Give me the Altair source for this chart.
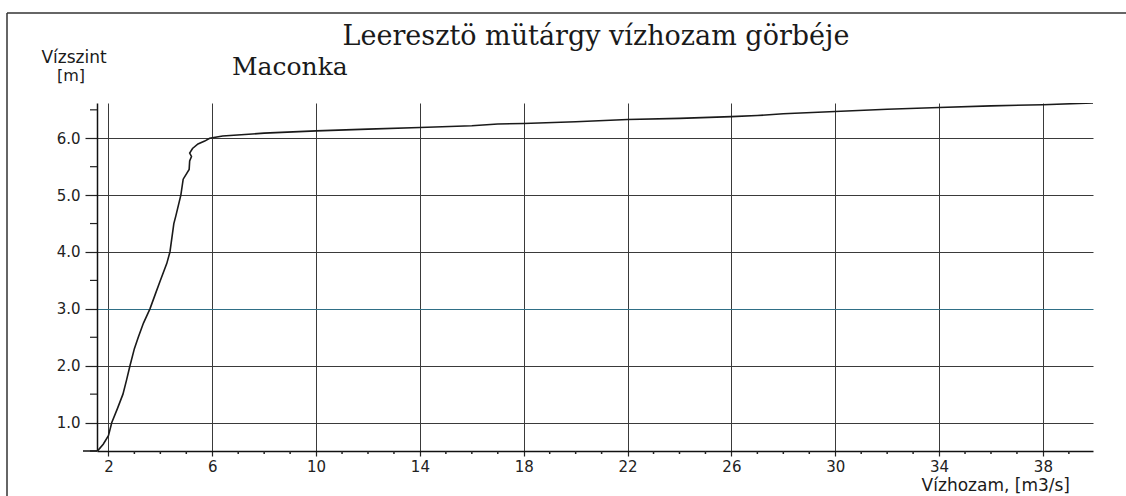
import altair as alt
import pandas as pd

# ---- data ----
discharge = [1.58, 1.8, 2.0, 2.13, 2.35, 2.56, 2.7, 2.83, 3.0, 3.15, 3.35, 3.6, 3.8, 4.0,
             4.25, 4.37, 4.52, 4.6, 4.79, 4.88, 5.11, 5.13, 5.2, 5.13, 5.24, 5.45, 5.71,
             5.9, 6.4, 7.4, 8, 10, 12, 14, 16, 17, 18, 20, 22, 24, 26, 27, 28, 30, 32,
             34, 36, 38, 39.93]
level = [0.5, 0.62, 0.77, 1.0, 1.25, 1.5, 1.75, 2.0, 2.3, 2.5, 2.75, 3.0, 3.25, 3.5,
         3.8, 4.0, 4.5, 4.64, 5.0, 5.28, 5.45, 5.6, 5.68, 5.74, 5.82, 5.9, 5.95,
         6.0, 6.04, 6.07, 6.09, 6.13, 6.16, 6.19, 6.22, 6.25, 6.26, 6.29, 6.33, 6.35,
         6.38, 6.40, 6.43, 6.47, 6.51, 6.54, 6.57, 6.59, 6.62]

x_major = [2, 6, 10, 14, 18, 22, 26, 30, 34, 38]
y_major = [1, 2, 3, 4, 5, 6]
x_minor = [v for v in range(2, 40) if v not in x_major]
y_minor = [0.5, 1.5, 2.5, 3.5, 4.5, 5.5, 6.5]

title_text = "Leeresztö mütárgy vízhozam görbéje"
subtitle_text = "Maconka"
y_title_1 = "Vízszint"
y_title_2 = "[m]"
x_title = "Vízhozam, [m3/s]"

W, H = 996, 348
xdom = [1.56, 39.93]
ydom = [0.5, 6.62]

df = pd.DataFrame({"q": discharge, "h": level, "i": list(range(len(discharge)))})

xscale = alt.Scale(domain=xdom, nice=False, zero=False)
yscale = alt.Scale(domain=ydom, nice=False, zero=False)

SANS = "DejaVu Sans"
SERIF = "DejaVu Serif"

xaxis = alt.Axis(values=x_major, format="d", title=None, grid=True,
                 gridColor="#3a3a3a", gridWidth=1,
                 tickSize=5, tickColor="#222", tickWidth=1.2,
                 domainColor="#111", domainWidth=1.5,
                 labelFont=SANS, labelFontSize=15, labelColor="#222",
                 labelPadding=3)
yaxis = alt.Axis(values=y_major, format=".1f", title=None, grid=True,
                 gridColor={"condition": {"test": "datum.value === 3", "value": "#2f6f86"},
                            "value": "#3a3a3a"},
                 gridWidth=1,
                 tickSize=12, tickColor="#222", tickWidth=1.2,
                 domainColor="#111", domainWidth=1.5,
                 labelFont=SANS, labelFontSize=15, labelColor="#222",
                 labelPadding=5)

line = alt.Chart(df).mark_line(color="#1a1a1a", strokeWidth=1.6, clip=True).encode(
    x=alt.X("q:Q", scale=xscale, axis=xaxis),
    y=alt.Y("h:Q", scale=yscale, axis=yaxis),
    order="i:Q",
)

ymin_df = pd.DataFrame({"h": y_minor})
y_minor_ticks = alt.Chart(ymin_df).mark_rule(color="#222", strokeWidth=1.2).encode(
    y=alt.Y("h:Q", scale=yscale, axis=yaxis),
    x=alt.value(-7), x2=alt.value(0),
)

xmin_df = pd.DataFrame({"q": x_minor})
x_minor_ticks = alt.Chart(xmin_df).mark_rule(color="#222", strokeWidth=1.5).encode(
    x=alt.X("q:Q", scale=xscale, axis=xaxis),
    y=alt.value(H), y2=alt.value(H + 3),
)

axis_ext = alt.Chart(pd.DataFrame({"a": [0]})).mark_rule(color="#111", strokeWidth=1.5).encode(
    x=alt.value(-14), x2=alt.value(0), y=alt.value(H)
)

frame_left = alt.Chart(pd.DataFrame({"a": [0]})).mark_rule(color="#333", strokeWidth=1.5).encode(
    x=alt.value(-90), y=alt.value(-90), y2=alt.value(H + 45)
)
frame_top = alt.Chart(pd.DataFrame({"a": [0]})).mark_rule(color="#333", strokeWidth=1.5).encode(
    x=alt.value(-90), x2=alt.value(W + 33), y=alt.value(-90)
)


def label(text, x, y, font, size, align="left"):
    return alt.Chart(pd.DataFrame({"t": [text]})).mark_text(
        font=font, fontSize=size, align=align, baseline="alphabetic", color="#1a1a1a"
    ).encode(text="t:N", x=alt.value(x), y=alt.value(y))


t1 = label(title_text, 499, -58, SERIF, 27, "center")
t2 = label(subtitle_text, 135, -28, SERIF, 25, "left")
t3 = label(y_title_1, -23, -40, SANS, 17, "center")
t4 = label(y_title_2, -26, -22, SANS, 16, "center")
t5 = label(x_title, 973, H + 40, SANS, 17, "right")

chart = alt.layer(
    line, y_minor_ticks, x_minor_ticks, axis_ext, frame_left, frame_top, t1, t2, t3, t4, t5
).properties(
    width=W, height=H,
    autosize=alt.AutoSizeParams(type="none"),
    padding={"left": 97, "top": 103, "right": 33, "bottom": 45},
    background="white",
).configure_view(stroke=None)

chart.save("out.html", embed_options={"renderer": "svg", "actions": False})
